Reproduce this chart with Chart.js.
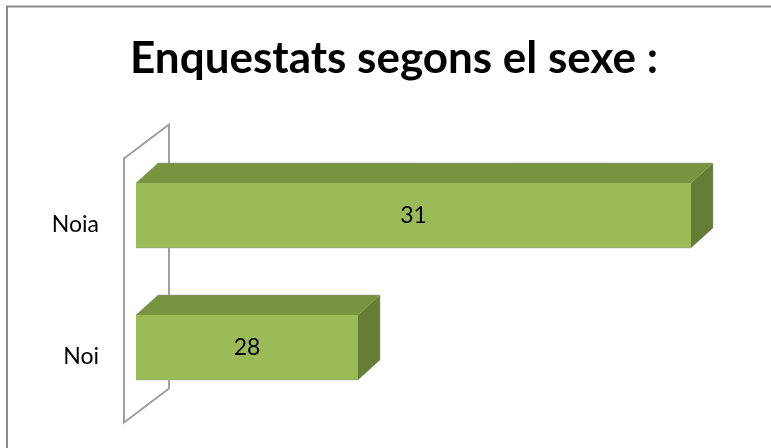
<!DOCTYPE html>
<html>
<head>
<meta charset="utf-8">
<script src="https://cdn.jsdelivr.net/npm/chart.js@4.4.1/dist/chart.umd.min.js"></script>
<style>
  html, body { margin: 0; padding: 0; background: #ffffff; }
  #wrap { width: 771px; height: 448px; position: relative; }
</style>
</head>
<body>
<div id="wrap"><canvas id="c"></canvas></div>
<script>
const titleText = 'Enquestats segons el sexe :';
const categories = ['Noia', 'Noi'];
const values = [31, 28];
const axisMin = 26;
const axisMax = 31;

const FRONT = '#9BBB59';
const TOP = '#77943E';
const SIDE = '#657E36';
const DX = 22, DY = 20;

const framePlugin = {
  id: 'frame',
  beforeDraw(chart) {
    const ctx = chart.ctx;
    ctx.save();
    ctx.strokeStyle = '#8a8a8a';
    ctx.lineWidth = 2;
    ctx.strokeRect(7, 6.5, 900, 600);
    ctx.restore();
  }
};

const titlePlugin = {
  id: 'ownTitle',
  afterDraw(chart) {
    const ctx = chart.ctx;
    ctx.save();
    ctx.fillStyle = '#000000';
    ctx.font = 'bold 44px Lato';
    ctx.textAlign = 'center';
    ctx.textBaseline = 'alphabetic';
    ctx.fillText(titleText, 394, 73);
    ctx.restore();
  }
};

const wallPlugin = {
  id: 'wall',
  beforeDatasetsDraw(chart) {
    const a = chart.chartArea;
    const ctx = chart.ctx;
    ctx.save();
    ctx.strokeStyle = '#a0a0a0';
    ctx.lineWidth = 2;
    ctx.beginPath();
    ctx.moveTo(a.left - 12, a.top + 9);
    ctx.lineTo(a.left + 33, a.top - 25);
    ctx.lineTo(a.left + 33, a.bottom - 25);
    ctx.lineTo(a.left - 12, a.bottom + 9);
    ctx.closePath();
    ctx.stroke();
    ctx.restore();
  }
};

const bar3dPlugin = {
  id: 'bar3d',
  afterDatasetsDraw(chart) {
    const ctx = chart.ctx;
    const meta = chart.getDatasetMeta(0);
    ctx.save();
    meta.data.forEach((bar, i) => {
      const p = bar.getProps(['x', 'y', 'base', 'height'], true);
      const top = p.y - p.height / 2;
      const bottom = p.y + p.height / 2;
      const l = Math.min(p.base, p.x), r = Math.max(p.base, p.x);
      ctx.fillStyle = TOP;
      ctx.beginPath();
      ctx.moveTo(l, top);
      ctx.lineTo(r, top);
      ctx.lineTo(r + DX, top - DY);
      ctx.lineTo(l + DX, top - DY);
      ctx.closePath();
      ctx.fill();
      ctx.fillStyle = SIDE;
      ctx.beginPath();
      ctx.moveTo(r, top);
      ctx.lineTo(r + DX, top - DY);
      ctx.lineTo(r + DX, bottom - DY);
      ctx.lineTo(r, bottom);
      ctx.closePath();
      ctx.fill();
      ctx.strokeStyle = 'rgba(150,150,150,0.45)';
      ctx.lineWidth = 1;
      ctx.beginPath();
      ctx.moveTo(l, top);
      ctx.lineTo(l + DX, top - DY);
      ctx.lineTo(r + DX, top - DY);
      ctx.lineTo(r + DX, bottom - DY);
      ctx.lineTo(r, bottom);
      ctx.lineTo(l, bottom);
      ctx.stroke();
      ctx.fillStyle = '#000000';
      ctx.font = '23px Lato';
      ctx.textAlign = 'center';
      ctx.textBaseline = 'middle';
      ctx.fillText(String(values[i]), (l + r) / 2, p.y);
    });
    ctx.restore();
  }
};

new Chart(document.getElementById('c'), {
  type: 'bar',
  data: {
    labels: categories,
    datasets: [{
      data: values,
      base: axisMin,
      backgroundColor: FRONT,
      borderWidth: 0,
      barPercentage: 0.492,
      categoryPercentage: 1
    }]
  },
  options: {
    indexAxis: 'y',
    responsive: true,
    maintainAspectRatio: false,
    animation: false,
    layout: { padding: { left: 20, right: 80, top: 149.5, bottom: 34.5 } },
    plugins: {
      legend: { display: false },
      tooltip: { enabled: false },
      title: { display: false }
    },
    scales: {
      x: {
        display: false,
        min: axisMin,
        max: axisMax
      },
      y: {
        grid: { display: false, drawTicks: false },
        border: { display: false },
        ticks: {
          color: '#000000',
          font: { family: 'Lato', size: 23 },
          padding: 37,
          labelOffset: 9
        },
        afterFit(scale) {
          scale.width = 116;
          scale.paddingTop = 0;
          scale.paddingBottom = 0;
        }
      }
    }
  },
  plugins: [framePlugin, wallPlugin, bar3dPlugin, titlePlugin]
});
</script>
</body>
</html>
